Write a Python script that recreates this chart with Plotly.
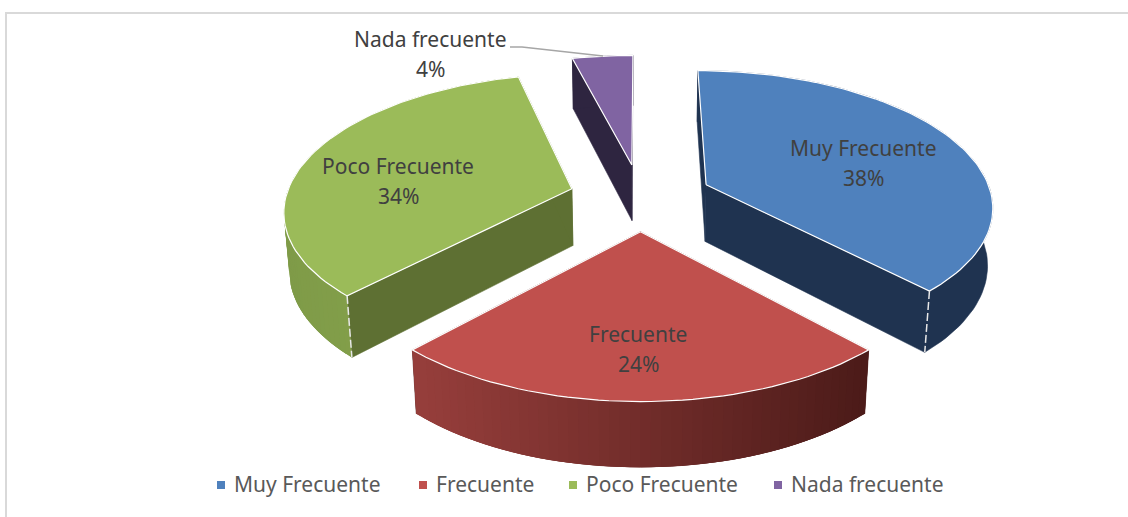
"""Exploded 3D-look pie of answer frequency, drawn on hidden pixel axes."""

import math

import plotly.graph_objects as go

LABELS = ["Muy Frecuente", "Frecuente", "Poco Frecuente", "Nada frecuente"]
PERCENTS = [38, 24, 34, 4]
TOP_COLORS = ["#4f81bd", "#c0504d", "#9bbb59", "#8064a2"]
CUT_COLORS = ["#1f3350", "#4a1a18", "#5e7033", "#2e2540"]
WALL_LEFT = ["#1f3350", "#963e3b", "#7f9b48", "#2e2540"]
WALL_RIGHT = ["#1f3350", "#4a1a18", "#8aa74e", "#2e2540"]

# projection of the tilted pie
CX, CY = 640.5, 197
A, B, D = 286, 134, 58
P, Q = 0.145, 0.015
EXPLODE = 0.25

TEXT_FONT = "Noto Sans"
LABEL_COLOR = "#404040"
LEGEND_COLOR = "#595959"


def project(x, y, h=0.0):
    den = 1 + P * y + Q * h
    return CX + A * x / den, CY - B * y / den + D * h / den


def hex_mix(c0, c1, t):
    a = [int(c0[i:i + 2], 16) for i in (1, 3, 5)]
    b = [int(c1[i:i + 2], 16) for i in (1, 3, 5)]
    return "#" + "".join(f"{round(p + (q - p) * t):02x}" for p, q in zip(a, b))


def polygon(fig, pts, color, line_color=None, width=0.6):
    fig.add_trace(
        go.Scatter(
            x=[p[0] for p in pts] + [pts[0][0]],
            y=[p[1] for p in pts] + [pts[0][1]],
            mode="lines",
            fill="toself",
            fillcolor=color,
            line=dict(color=line_color or color, width=width),
            hoverinfo="skip",
            showlegend=False,
        )
    )


def polyline(fig, pts, color, width=1.2, dash="solid"):
    fig.add_trace(
        go.Scatter(
            x=[p[0] for p in pts],
            y=[p[1] for p in pts],
            mode="lines",
            line=dict(color=color, width=width, dash=dash),
            hoverinfo="skip",
            showlegend=False,
        )
    )


def wall(rim):
    return [project(x, y) for x, y in rim] + [project(x, y, 1) for x, y in reversed(rim)]


def draw_slice(fig, i, start, end):
    mid = (start + end) / 2
    ox, oy = EXPLODE * math.sin(mid), EXPLODE * math.cos(mid)
    steps = max(6, int((end - start) / 0.03))
    angles = [start + (end - start) * k / steps for k in range(steps + 1)]
    rim = [(ox + math.sin(a), oy + math.cos(a)) for a in angles]

    # cut faces first, then the outer wall, then the top
    for x, y in (rim[0], rim[-1]):
        polygon(
            fig,
            [project(ox, oy), project(x, y), project(x, y, 1), project(ox, oy, 1)],
            CUT_COLORS[i],
        )

    if WALL_LEFT[i] == WALL_RIGHT[i]:
        polygon(fig, wall(rim), WALL_LEFT[i])
    else:
        # gradient walls: overlapping strips, so no seams show between them
        xs = [project(x, y)[0] for x, y in rim]
        x_lo, x_hi = min(xs), max(xs)
        order = sorted(range(steps), key=lambda k: xs[k], reverse=True)
        for k in order:
            t = ((xs[k] + xs[k + 1]) / 2 - x_lo) / (x_hi - x_lo)
            strip = rim[max(k - 1, 0):k + 3]
            polygon(fig, wall(strip), hex_mix(WALL_LEFT[i], WALL_RIGHT[i], t), width=0)

    top = [project(ox, oy)] + [project(x, y) for x, y in rim]
    polygon(fig, top, TOP_COLORS[i], line_color="#ffffff", width=1.2)

    # dashed highlight down the front corner of the slice
    if i == 0:
        polyline(fig, [project(*rim[-1]), project(*rim[-1], 1)], "#e8e8e8", 1.5, "8px,3px")
    if i == 2:
        polyline(fig, [project(*rim[0]), project(*rim[0], 1)], "#e8e8e8", 1.5, "8px,3px")


fig = go.Figure()

total = sum(PERCENTS)
edges = [0.0]
for pct in PERCENTS:
    edges.append(edges[-1] + 2 * math.pi * pct / total)

for i in [3, 2, 0, 1]:
    draw_slice(fig, i, edges[i], edges[i + 1])

# leader line for the small slice
polyline(fig, [(510, 47), (522, 47), (603, 56)], "#a6a6a6", 1.4)

# data labels: two lines each, spaced as in the source chart
label_xy = [(863, 148), (638, 334), (398, 166), (430, 39)]
for name, pct, (lx, ly) in zip(LABELS, PERCENTS, label_xy):
    for text, yy in ((name, ly), (f"{pct}%", ly + 30)):
        fig.add_annotation(
            x=lx, y=yy, text=text, showarrow=False,
            font=dict(family=TEXT_FONT, size=21, color=LABEL_COLOR),
        )

# legend row
legend_x = [221, 423, 573, 778]
for name, color, lx in zip(LABELS, TOP_COLORS, legend_x):
    fig.add_trace(
        go.Scatter(
            x=[lx], y=[485],
            mode="markers",
            name=name,
            marker=dict(symbol="square", size=8, color=color),
            hoverinfo="skip",
            showlegend=False,
        )
    )
    fig.add_annotation(
        x=lx + 10.5, y=484, text=name, showarrow=False, xanchor="left",
        font=dict(family=TEXT_FONT, size=21, color=LEGEND_COLOR),
    )

fig.update_layout(
    width=1128,
    height=517,
    margin=dict(l=0, r=0, t=0, b=0),
    paper_bgcolor="white",
    plot_bgcolor="white",
    xaxis=dict(visible=False, range=[0, 1128], fixedrange=True),
    yaxis=dict(visible=False, range=[517, 0], fixedrange=True),
    shapes=[
        dict(type="line", xref="x", yref="y", x0=6, y0=13, x1=1128, y1=13,
             line=dict(color="#d9d9d9", width=2), layer="below"),
        dict(type="line", xref="x", yref="y", x0=6, y0=12, x1=6, y1=517,
             line=dict(color="#d9d9d9", width=2), layer="below"),
    ],
)

fig.write_html(
    "out.html",
    config={"displayModeBar": False},
    post_script="document.body.style.margin='0';",
)
